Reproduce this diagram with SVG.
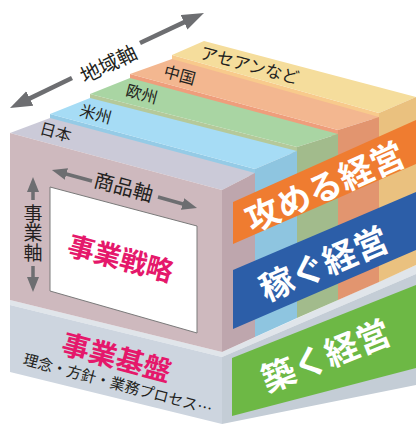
<svg xmlns="http://www.w3.org/2000/svg" width="416" height="424" viewBox="0 0 416 424">
<style>
text{font-family:"Noto Sans CJK JP","Noto Sans",sans-serif;}
.lbl{font-size:16px;fill:#231f20;}
.axis{font-size:20px;fill:#231f20;}
.band{font-size:34px;font-weight:bold;fill:#ffffff;}
.mag{font-weight:bold;fill:#e5186b;}
.arrow{stroke:#6d6e71;fill:none;}
</style>
<defs>
<marker id="ahb" markerUnits="userSpaceOnUse" markerWidth="24" markerHeight="18" refX="8" refY="8" orient="auto"><path d="M0,0 L22,8 L0,16 z" fill="#6d6e71"/></marker>
<marker id="ahs" markerUnits="userSpaceOnUse" markerWidth="16" markerHeight="13" refX="5" refY="6" orient="auto"><path d="M0,0 L15,6 L0,12 z" fill="#6d6e71"/></marker>
</defs>
<rect width="416" height="424" fill="#ffffff"/>

<g id="base">
<polygon points="10,300 222,352 416,265 416,274 222,357 10,305" fill="#e0e5ea"/>
<polygon points="10,305 222,357 222,424 10,372" fill="#cdd5df"/>
<polygon points="222,357 416,274 416,385 222,424" fill="#c4cdd6"/>
<polygon points="232,358 416,285 416,368 232,416" fill="#6db845"/>
<text class="band" transform="translate(325,354) rotate(-22)" text-anchor="middle" dominant-baseline="central">築く経営</text>
</g>

<g id="slice-asean">
<polygon points="172,55 379,113 379,121 172,63" fill="#f8ca8c"/>
<polygon points="172,55 379,113 416,97 204,41" fill="#f5dd9c"/>
<polygon points="379,113 416,97 416,265 379,282" fill="#eac17f"/>
</g>
<g id="slice-china">
<polygon points="130,74 338,130 338,138 130,82" fill="#ef9e7c"/>
<polygon points="130,74 338,130 379,117 172,59" fill="#f3b790"/>
<polygon points="338,130 379,117 379,282 338,300" fill="#e2956f"/>
</g>
<g id="slice-europe">
<polygon points="90,94 297,147 297,155 90,102" fill="#b5c99a"/>
<polygon points="90,94 297,147 338,134 130,78" fill="#a9d5a3"/>
<polygon points="297,147 338,134 338,300 297,318" fill="#a2bb8c"/>
</g>
<g id="slice-america">
<polygon points="50,114 255,169 255,177 50,122" fill="#95cbe6"/>
<polygon points="50,114 255,169 297,151 90,98" fill="#a6dcf5"/>
<polygon points="255,169 297,151 297,318 255,337" fill="#8ec5e0"/>
</g>
<g id="slice-japan">
<polygon points="10,133 222,190 255,173 50,118" fill="#cbcad8"/>
<polygon points="10,133 222,190 222,352 10,300" fill="#ceb9be"/>
<polygon points="222,190 255,173 255,337 222,352" fill="#bea6ad"/>
</g>

<g id="labels">
<text class="lbl" transform="translate(56,131) rotate(15)" text-anchor="middle" dominant-baseline="central">日本</text>
<text class="lbl" transform="translate(96,113) rotate(15)" text-anchor="middle" dominant-baseline="central">米州</text>
<text class="lbl" transform="translate(142,93) rotate(15)" text-anchor="middle" dominant-baseline="central">欧州</text>
<text class="lbl" transform="translate(180,74) rotate(15)" text-anchor="middle" dominant-baseline="central">中国</text>
<text class="lbl" style="font-size:17px" transform="translate(250,64) rotate(15)" text-anchor="middle" dominant-baseline="central">アセアンなど</text>
</g>

<g id="strategy">
<polygon points="50,187 197,226 197,333 50,291" fill="#ffffff" stroke="#7a7a7a" stroke-width="1"/>
<text class="mag" style="font-size:27px" transform="translate(121,257) rotate(15)" text-anchor="middle" dominant-baseline="central">事業戦略</text>
</g>

<g id="foundation">
<text class="mag" style="font-size:28px" transform="translate(117,356) rotate(15)" text-anchor="middle" dominant-baseline="central">事業基盤</text>
<text style="font-size:15px;fill:#231f20" transform="translate(118,383) rotate(15)" text-anchor="middle" dominant-baseline="central">理念・方針・業務プロセス…</text>
</g>

<g id="axes">
<text class="axis" transform="translate(108,63) rotate(-26)" text-anchor="middle" dominant-baseline="central">地域軸</text>
<text class="axis" transform="translate(124,186) rotate(15)" text-anchor="middle" dominant-baseline="central">商品軸</text>
<text class="axis" style="font-size:19px;writing-mode:vertical-rl;letter-spacing:0.5px" x="33" y="204">事業軸</text>
</g>

<g id="connectors">
<line class="arrow" x1="72" y1="78" x2="22.6" y2="101.9" stroke-width="4.5" marker-end="url(#ahb)"/>
<line class="arrow" x1="140" y1="43" x2="191.3" y2="18.9" stroke-width="4.5" marker-end="url(#ahb)"/>
<line class="arrow" x1="92" y1="181" x2="61.6" y2="172.7" stroke-width="3.5" marker-end="url(#ahs)"/>
<line class="arrow" x1="158" y1="197" x2="187.4" y2="205.3" stroke-width="3.5" marker-end="url(#ahs)"/>
<line class="arrow" x1="33" y1="200" x2="33" y2="187" stroke-width="3.5" marker-end="url(#ahs)"/>
<line class="arrow" x1="33" y1="266" x2="33" y2="282" stroke-width="3.5" marker-end="url(#ahs)"/>
</g>

<g id="band-attack">
<polygon points="233,202 416,120 416,164 233,244" fill="#ef7c30"/>
<text class="band" transform="translate(324,185) rotate(-24)" text-anchor="middle" dominant-baseline="central">攻める経営</text>
</g>
<g id="band-earn">
<polygon points="233,270 416,192 416,250 233,329" fill="#2c5ea8"/>
<text class="band" transform="translate(323,262) rotate(-23)" text-anchor="middle" dominant-baseline="central">稼ぐ経営</text>
</g>
</svg>
